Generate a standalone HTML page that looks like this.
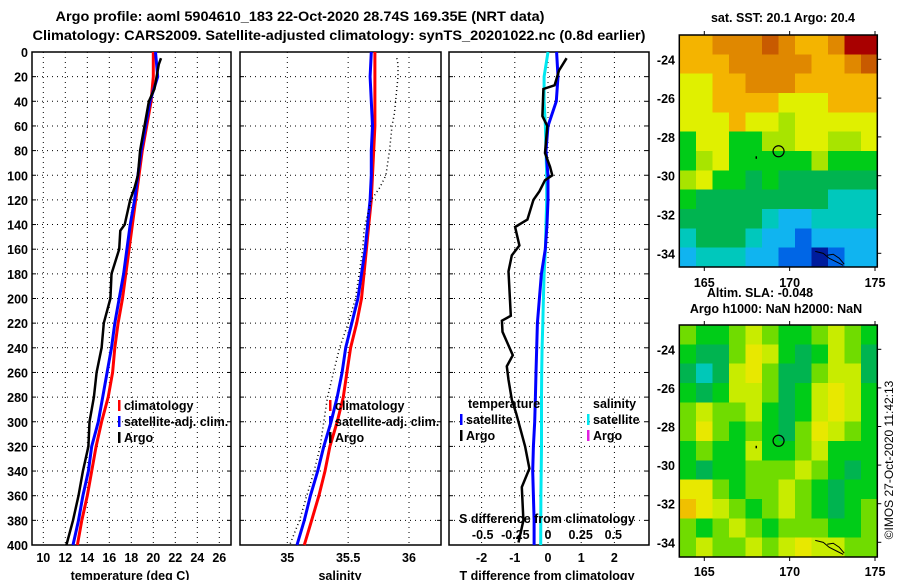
<!DOCTYPE html>
<html><head><meta charset="utf-8"><style>
html,body{margin:0;padding:0;background:#fff;}
svg{display:block;font-family:"Liberation Sans",Arial,sans-serif;font-weight:bold;}
text{font-size:12.5px;fill:#000;}
</style></head><body>
<svg id="fig" width="900" height="580" viewBox="0 0 900 580" xmlns="http://www.w3.org/2000/svg">
<text x="300" y="21" text-anchor="middle" textLength="489" lengthAdjust="spacingAndGlyphs" style="font-size:14px">Argo profile: aoml 5904610_183 22-Oct-2020 28.74S 169.35E (NRT data)</text>
<text x="339" y="40" text-anchor="middle" textLength="613" lengthAdjust="spacingAndGlyphs" style="font-size:14px">Climatology: CARS2009. Satellite-adjusted climatology: synTS_20201022.nc (0.8d earlier)</text>
<g id="g1"></g>
<g id="g2"></g>
<g id="g3"></g>
<g id="m1"></g>
<g id="m2"></g>
<text x="783" y="22" text-anchor="middle">sat. SST: 20.1 Argo: 20.4</text>
<text x="760" y="297" text-anchor="middle">Altim. SLA: -0.048</text>
<text x="776" y="313" text-anchor="middle">Argo h1000: NaN h2000: NaN</text>
<text transform="translate(893,460) rotate(-90)" text-anchor="middle" style="font-weight:normal;font-size:12px">©IMOS 27-Oct-2020 11:42:13</text>
</svg>
<script>
// ---- profile data ----
const depthClim = [0,20,40,60,80,100,120,140,160,180,200,220,240,260,280,300,320,340,360,380,400];
const tClim = [20.0,20.0,19.8,19.4,19.0,18.7,18.4,18.1,17.8,17.5,17.2,16.8,16.5,16.3,15.9,15.3,14.8,14.4,14.0,13.5,13.1];
const tSat = [20.2,20.4,19.7,19.3,18.9,18.6,18.3,17.9,17.6,17.3,16.9,16.5,16.2,15.8,15.4,15.0,14.4,14.1,13.6,13.2,12.7];
const sClim = [35.72,35.72,35.72,35.72,35.71,35.70,35.69,35.67,35.65,35.63,35.61,35.57,35.52,35.49,35.46,35.41,35.35,35.31,35.26,35.20,35.14];
const sSat = [35.69,35.68,35.69,35.70,35.69,35.69,35.68,35.66,35.64,35.61,35.58,35.53,35.48,35.45,35.41,35.36,35.30,35.25,35.19,35.14,35.08];
const argoD = [5,10,20,30,40,50,60,80,100,110,120,140,145,160,180,200,220,240,260,280,300,320,340,360,380,400];
const argoT = [20.7,20.5,20.3,20.1,19.6,19.4,19.2,18.8,18.6,18.3,17.9,17.4,17.0,16.9,16.2,16.1,15.5,15.3,14.85,14.6,14.2,14.1,13.6,13.2,12.7,12.1];
const argoS = [35.90,35.91,35.91,35.90,35.89,35.88,35.86,35.84,35.81,35.76,35.69,35.64,35.63,35.62,35.59,35.56,35.50,35.43,35.38,35.33,35.30,35.27,35.22,35.16,35.10,35.02];
const diffD = [5,15,27,30,52,60,82,93,100,104,113,120,136,142,157,165,178,214,218,227,246,255,266,282,293,320,338,353,380,398];
const diffT = [0.56,0.33,0.2,-0.14,-0.17,-0.02,-0.09,0.06,0.13,-0.09,-0.26,-0.44,-0.62,-0.99,-0.86,-1.09,-1.19,-1.12,-1.39,-1.37,-1.06,-1.24,-1.19,-1.09,-0.96,-0.69,-0.56,-0.79,-0.74,-0.89];
const satDiffT = [0.26,0.3,0.25,0.0,-0.06,0.0,0.0,-0.03,-0.08,-0.2,-0.26,-0.32,-0.34,-0.36,-0.38,-0.4,-0.44,-0.46,-0.44,-0.42,-0.42];
const satDiffS = [0,-0.03,-0.03,-0.02,-0.015,-0.01,-0.01,-0.015,-0.02,-0.03,-0.035,-0.04,-0.045,-0.048,-0.05,-0.05,-0.05,-0.052,-0.054,-0.055,-0.056];
const depthTicks = [0,20,40,60,80,100,120,140,160,180,200,220,240,260,280,300,320,340,360,380,400];
const tTicks = [10,12,14,16,18,20,22,24,26];
const sTicks = [35,35.5,36];
const sTickLabels = ["35","35.5","36"];
const dTTicks = [-2,-1,0,1,2];
const dSTicks = [-0.5,-0.25,0,0.25,0.5];
const dSTickLabels = ["-0.5","-0.25","0","0.25","0.5"];
// ---- map data (1-degree cells, rows from north to south) ----
const sstGrid = [
[8,8,9,9,9,10,9,8,8,9,11,11],
[8,8,8,9,9,9,9,9,8,8,9,10],
[7,7,8,8,9,9,9,8,8,8,8,8],
[7,7,8,8,8,8,7,7,7,8,8,8],
[7,7,7,8,7,7,6,7,7,7,7,7],
[5,7,7,5,5,6,6,7,7,6,6,7],
[5,6,7,5,5,5,5,5,6,5,5,5],
[6,7,5,5,4,5,4,4,4,4,4,4],
[5,4,4,4,4,4,4,4,4,3,3,3],
[4,4,4,4,4,3,2,2,3,3,3,3],
[3,4,4,4,3,2,2,1,2,2,2,2],
[2,3,3,3,2,2,1,1,0,1,2,2]];
const slaGrid = [
[3,2,2,3,4,3,2,2,3,4,3,2],
[2,1,1,3,5,4,2,1,2,4,3,1],
[1,0,1,4,5,3,1,1,3,4,4,1],
[2,1,2,4,4,3,1,2,4,5,4,2],
[3,4,3,3,4,2,1,2,4,5,4,2],
[3,5,3,2,3,2,1,3,5,4,3,2],
[2,3,2,2,4,2,2,3,4,2,2,2],
[2,1,2,2,3,3,3,4,3,2,1,2],
[5,5,3,2,3,3,4,3,2,1,2,2],
[6,5,4,3,2,3,4,3,2,1,2,3],
[3,2,3,4,3,2,3,3,3,2,2,3],
[3,4,3,3,4,3,4,5,4,4,3,3]];
const sstColors = ["#001c9c","#0066e6","#10b4f0","#00c8bc","#00b450","#00cc18","#a8e400","#e0f000","#f4b400","#e08800","#c85a00","#a80000"];
const slaColors = ["#00c8b8","#00b450","#00cc18","#70dc00","#c8ec00","#e8e800","#f0c000"];
const mapLatTicks = [-24,-26,-28,-30,-32,-34];
const mapLonTicks = [165,170,175];
const argoLon = 169.35, argoLat = -28.74;

const NS="http://www.w3.org/2000/svg";
function mk(parent,tag,attrs,txt){const e=document.createElementNS(NS,tag);for(const k in attrs)e.setAttribute(k,attrs[k]);if(txt!==undefined)e.textContent=txt;parent.appendChild(e);return e;}
const TOP=52, BOT=545;
const yD = d => TOP + d*(BOT-TOP)/400;

function panel(g,x0,x1,xs,xticks,xlabels,name){
  const fr=mk(g,'rect',{x:x0,y:TOP,width:x1-x0,height:BOT-TOP,fill:'#fff',stroke:'#000','stroke-width':1.5});
  
  depthTicks.forEach(d=>{if(d===0||d===400)return;const l=mk(g,'line',{x1:x0,x2:x1,y1:yD(d),y2:yD(d),stroke:'#000','stroke-width':1,'stroke-dasharray':'1,4'});
    
    mk(g,'line',{x1:x0,x2:x0+4,y1:yD(d),y2:yD(d),stroke:'#000'});mk(g,'line',{x1:x1-4,x2:x1,y1:yD(d),y2:yD(d),stroke:'#000'});});
  xticks.forEach((v,i)=>{const x=xs(v);const l=mk(g,'line',{x1:x,x2:x,y1:TOP,y2:BOT,stroke:'#000','stroke-width':1,'stroke-dasharray':'1,4'});
    
    const t=mk(g,'text',{x:x,y:562,'text-anchor':'middle'},xlabels[i]);
    });
}
function line(g,xs,xv,dv,attrs,name){
  const pts=xv.map((v,i)=>xs(v).toFixed(1)+','+yD(dv[i]).toFixed(1)).join(' ');
  const p=mk(g,'polyline',Object.assign({points:pts,fill:'none'},attrs));
  return p;
}
function legend(g,x,items){
  items.forEach((it,i)=>{const y=410+i*16;
    const m=mk(g,'rect',{x:x,y:y-10,width:2.5,height:11,fill:it[1]});
    
    const t=mk(g,'text',{x:x+6,y:y},it[0]);
    });
}
// panel 1
const g1=document.getElementById('g1');
const xT=v=>43.3+(v-10)*11.0;
panel(g1,32,231,xT,tTicks,tTicks.map(String),'temperature');
depthTicks.forEach(d=>{const t=mk(g1,'text',{x:28,y:yD(d)+5,'text-anchor':'end'},String(d));
  });
line(g1,xT,tClim,depthClim,{stroke:'#f00','stroke-width':3},'temperature-climatology-line');
line(g1,xT,tSat,depthClim,{stroke:'#00f','stroke-width':3},'temperature-satellite-line');
line(g1,xT,argoT,argoD,{stroke:'#000','stroke-width':2.5},'temperature-argo-line');
legend(g1,118,[['climatology','#f00'],['satellite-adj. clim.','#00f'],['Argo','#000']]);
mk(g1,'text',{x:130,y:580,'text-anchor':'middle'},'temperature (deg C)');
// panel 2
const g2=document.getElementById('g2');
const xS=v=>287.3+(v-35)*121.7;
panel(g2,240,441,xS,sTicks,sTickLabels,'salinity');
line(g2,xS,sClim,depthClim,{stroke:'#f00','stroke-width':3},'salinity-climatology-line');
line(g2,xS,sSat,depthClim,{stroke:'#00f','stroke-width':3},'salinity-satellite-line');
line(g2,xS,argoS,argoD,{stroke:'#000','stroke-width':1.5,'stroke-dasharray':'1,3'},'salinity-argo-line');
legend(g2,329,[['climatology','#f00'],['satellite-adj. clim.','#00f'],['Argo','#000']]);
mk(g2,'text',{x:340,y:580,'text-anchor':'middle'},'salinity');
// panel 3
const g3=document.getElementById('g3');
const xDT=v=>548+v*33.2;
const xDS=v=>548+v*130.6;
panel(g3,449,649,xDT,dTTicks,dTTicks.map(String),'difference');
line(g3,xDS,satDiffS,depthClim,{stroke:'#00e8f0','stroke-width':3},'salinity-satellite-diff-line');
line(g3,xDT,satDiffT,depthClim,{stroke:'#00f','stroke-width':3},'temperature-satellite-diff-line');
line(g3,xDT,diffT,diffD,{stroke:'#000','stroke-width':2.5},'temperature-argo-diff-line');
[['temperature',468],['salinity',593]].forEach(h=>{const t=mk(g3,'text',{x:h[1],y:408},h[0]);});
[['satellite','#00f',460,424],['Argo','#000',460,440],['satellite','#00e8f0',587,424],['Argo','#e020e0',587,440]].forEach(it=>{
  const m=mk(g3,'rect',{x:it[2],y:it[3]-10,width:2.5,height:11,fill:it[1]});
  
  const t=mk(g3,'text',{x:it[2]+6,y:it[3]},it[0]);
  });
mk(g3,'text',{x:547,y:523,'text-anchor':'middle'},'S difference from climatology');
dSTicks.forEach((v,i)=>{const t=mk(g3,'text',{x:xDS(v),y:539,'text-anchor':'middle'},dSTickLabels[i]);
  });
mk(g3,'text',{x:547,y:580,'text-anchor':'middle'},'T difference from climatology');
// maps
function drawMap(id,grid,cols,top,bot,lat24,lat34,lonLabY){
  const g=document.getElementById(id);
  const L=679.3,R=877.3;
  const xL=lon=>704.3+(lon-165)*17.07;
  const yL=lat=>lat24+(-24-lat)*(lat34-lat24)/10;
  const nr=grid.length,nc=grid[0].length;
  const cw=(R-L)/nc, ch=(bot-top)/nr;
  grid.forEach((row,r)=>row.forEach((v,c)=>{
    const cell=mk(g,'rect',{x:(L+c*cw).toFixed(2),y:(top+r*ch).toFixed(2),width:(cw+0.6).toFixed(2),height:(ch+0.6).toFixed(2),fill:cols[v],'shape-rendering':'crispEdges'});
    
  }));
  const cp=mk(g,'path',{d:`M${xL(171.5)},${yL(-33.9)} l8,2 l6,5 l8,4 l6,3 M${xL(172.2)},${yL(-34.1)} l6,-1 l6,4 l5,6`,fill:'none',stroke:'#000','stroke-width':1});
  
  const fr=mk(g,'rect',{x:L,y:top,width:R-L,height:bot-top,fill:'none',stroke:'#000','stroke-width':1.5});
  
  mapLatTicks.forEach(lat=>{const y=yL(lat);mk(g,'line',{x1:R,x2:R+4,y1:y,y2:y,stroke:'#000'});
    const t=mk(g,'text',{x:675,y:y+5,'text-anchor':'end'},String(lat));
    });
  mapLonTicks.forEach(lon=>{const x=xL(lon);mk(g,'line',{x1:x,x2:x,y1:top-4,y2:top,stroke:'#000'});mk(g,'line',{x1:x,x2:x,y1:bot,y2:bot+4,stroke:'#000'});
    const t=mk(g,'text',{x:x,y:lonLabY,'text-anchor':'middle'},String(lon));
    });
  const c=mk(g,'circle',{cx:xL(argoLon),cy:yL(argoLat),r:5.5,fill:'none',stroke:'#000','stroke-width':1.2});
  
  mk(g,'rect',{x:xL(168),y:yL(-29.0),width:1.5,height:2.5,fill:'#000'});
}
drawMap('m1',sstGrid,sstColors,35,267,59.3,253.3,287);
drawMap('m2',slaGrid,slaColors,325,557,349.3,542.3,576);
</script>
</body></html>
